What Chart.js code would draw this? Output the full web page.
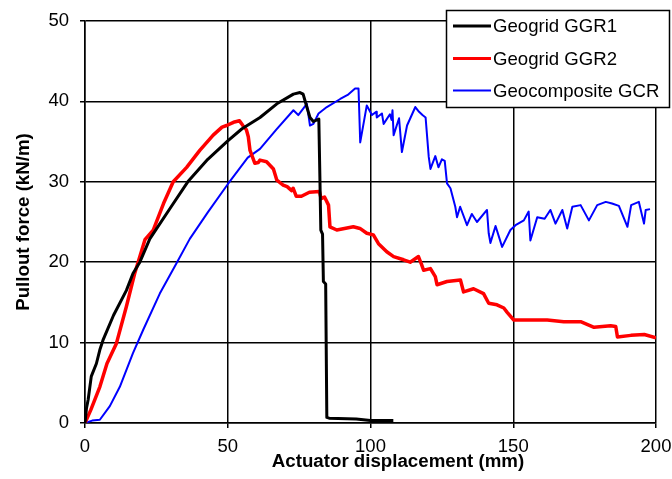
<!DOCTYPE html>
<html>
<head>
<meta charset="utf-8">
<script src="https://cdn.jsdelivr.net/npm/chart.js@4/dist/chart.umd.min.js"></script>
<style>
  html, body { margin: 0; padding: 0; background: #fff; }
  #wrap { width: 672px; height: 479px; position: relative; }
</style>
</head>
<body>
<div id="wrap"><canvas id="chart"></canvas></div>
<script>
// Series labels
const seriesNames = ['Geogrid GGR1', 'Geogrid GGR2', 'Geocomposite GCR'];
const xTitle = 'Actuator displacement (mm)';
const yTitle = 'Pullout force (kN/m)';

// Geogrid GGR1 (displacement mm, force kN/m)
const ggr1Disp = [0, 0.5, 1.1, 2.2, 4, 5.2, 6.3, 10, 14.5, 16.8, 19.2, 22.7, 30, 36, 43, 50, 55, 61.3, 67.2, 73, 75.3, 76.4, 77.7, 78.8, 80, 81.9, 82.3, 82.6, 83.2, 83.5, 84.3, 84.7, 85.5, 95, 100, 108];
const ggr1Force = [0, 1.8, 2.9, 5.8, 7.4, 9.1, 10.3, 13.4, 16.5, 18.6, 20, 22.9, 26.8, 30, 32.8, 35.1, 36.6, 38, 39.7, 40.9, 41.1, 40.9, 39.3, 38, 37.5, 37.8, 30, 24, 23.5, 17.6, 17.3, 0.7, 0.6, 0.5, 0.3, 0.3];

// Geogrid GGR2
const ggr2Disp = [0, 2, 5.2, 7.7, 11, 14.5, 17.4, 21, 23.9, 27.5, 30.9, 35.6, 40.2, 44.9, 48, 49.6, 52, 54.1, 55.3, 56.5, 57.2, 57.8, 59.5, 60.7, 61.3, 63.6, 66, 67.2, 69.4, 70.8, 72.4, 72.9, 74, 75.8, 78.6, 82.1, 82.7, 83.9, 85.3, 85.8, 88.2, 94, 96.3, 98.7, 101, 102.8, 105.7, 108.1, 111.6, 113.9, 116.8, 117.9, 118.6, 121, 122.7, 123.3, 126.8, 131.5, 132.6, 136.1, 139.6, 141.4, 144.3, 146.7, 147.8, 150.2, 156, 161.9, 167.7, 173.6, 178.3, 184.1, 185.9, 186.5, 191.2, 195.9, 200];
const ggr2Force = [0, 1.6, 4.5, 7.4, 9.9, 14.5, 18.6, 22.8, 24, 27.3, 30, 31.8, 33.9, 35.8, 36.8, 37, 37.4, 37.6, 37, 36.5, 35.6, 33.9, 32.3, 32.4, 32.7, 32.5, 31.6, 30.2, 29.6, 29.4, 28.9, 29.2, 28.2, 28.2, 28.7, 28.8, 27.9, 28.1, 27.1, 24.4, 24, 24.4, 24.2, 23.6, 23.4, 22.3, 21.3, 20.7, 20.3, 20, 20.7, 19.7, 19, 19.2, 18.2, 17.2, 17.6, 17.8, 16.3, 16.7, 16.1, 14.9, 14.7, 14.3, 13.8, 12.8, 12.8, 12.8, 12.6, 12.6, 11.9, 12.1, 12, 10.7, 10.9, 11, 10.6];

// Geocomposite GCR
const gcrDisp = [0, 2.5, 5.2, 8.7, 12.2, 16.8, 20.4, 26.2, 32.1, 36.7, 43, 50, 57, 61.3, 67, 73, 74.7, 77.7, 78.8, 80, 81.8, 84.7, 89.4, 92, 94.6, 95.8, 96.4, 98.7, 100.5, 102, 102.2, 104, 104.6, 106.8, 107.4, 107.7, 108.1, 110, 111, 112.8, 115.7, 117, 118.2, 119.3, 120.4, 121, 122.7, 123.8, 125, 126, 126.8, 128, 129.7, 130.3, 131.4, 133.8, 135.5, 137.3, 140.8, 141.4, 142, 143.8, 146.1, 149, 150.8, 153.7, 155.4, 156, 158.4, 161, 163, 164.8, 167.2, 168.9, 170.7, 173.6, 176.5, 179.4, 182.4, 184.6, 187, 190, 191.3, 194, 195.8, 196.4, 197.9];
const gcrForce = [0, 0.3, 0.4, 2.1, 4.5, 8.7, 11.6, 16.1, 19.9, 22.9, 26.2, 29.7, 33, 34.1, 36.5, 38.9, 38.3, 39.7, 37, 37.2, 38.5, 39.3, 40.3, 40.8, 41.6, 41.6, 34.9, 39.5, 38.3, 38.7, 38, 38.5, 37.2, 38.4, 37.7, 38.9, 35.8, 37.9, 33.7, 37, 39.3, 38.7, 38.3, 38, 33.1, 31.6, 33.2, 31.8, 32.8, 32.6, 29.8, 29.2, 26.9, 25.6, 26.9, 24.6, 26, 25, 26.5, 23.6, 22.4, 24.5, 21.9, 24, 24.6, 25.2, 26.3, 22.7, 25.6, 25.4, 26.5, 24.8, 26.5, 24.2, 26.9, 27.1, 25.2, 27.1, 27.5, 27.3, 27, 24.4, 27.1, 27.5, 24.8, 26.5, 26.6];

// Axis ranges / ticks
const xRange = [0, 200];
const xStep = 50;
const yRange = [0, 50];
const yStep = 10;

const FONT = '"Liberation Sans", Arial, sans-serif';

function toPoints(xs, ys) {
  return xs.map((x, i) => ({ x: x, y: ys[i] }));
}

// Boxed legend in the top-right corner, plus the x-axis title
// (the original centres it a bit right of the plot area)
const boxLegend = {
  id: 'boxLegend',
  afterDraw(chart) {
    const ctx = chart.ctx;
    const left = 446.5, top = 10.5, w = 223, h = 97;
    ctx.save();
    ctx.fillStyle = '#fff';
    ctx.fillRect(left, top, w, h);
    ctx.strokeStyle = '#000';
    ctx.lineWidth = 1.5;
    ctx.strokeRect(left, top, w, h);
    const rows = [26, 58.5, 90.5];
    chart.data.datasets.forEach((ds, i) => {
      ctx.strokeStyle = ds.borderColor;
      ctx.lineWidth = Math.min(ds.borderWidth, 3);
      ctx.beginPath();
      ctx.moveTo(453, rows[i]);
      ctx.lineTo(491, rows[i]);
      ctx.stroke();
      ctx.fillStyle = '#000';
      ctx.font = '18.6px ' + FONT;
      ctx.textBaseline = 'middle';
      ctx.textAlign = 'left';
      ctx.fillText(ds.label, 493, rows[i] + 1);
    });

    ctx.fillStyle = '#000';
    ctx.font = 'bold 18.7px ' + FONT;
    ctx.textAlign = 'center';
    ctx.textBaseline = 'middle';
    ctx.fillText(xTitle, 398, 462);
    ctx.restore();
  }
};

const ctx = document.getElementById('chart').getContext('2d');
new Chart(ctx, {
  type: 'scatter',
  data: {
    datasets: [
      { label: seriesNames[0], data: toPoints(ggr1Disp, ggr1Force), borderColor: '#000000', borderWidth: 3 },
      { label: seriesNames[1], data: toPoints(ggr2Disp, ggr2Force), borderColor: '#ff0000', borderWidth: 3.5 },
      { label: seriesNames[2], data: toPoints(gcrDisp, gcrForce), borderColor: '#0000ff', borderWidth: 2 }
    ].map(ds => Object.assign(ds, {
      showLine: true,
      pointRadius: 0,
      pointHoverRadius: 0,
      borderJoinStyle: 'round',
      tension: 0
    }))
  },
  options: {
    responsive: true,
    maintainAspectRatio: false,
    animation: false,
    layout: { padding: { top: 21, right: 16, left: 0, bottom: 0 } },
    plugins: {
      legend: { display: false },
      tooltip: { enabled: false }
    },
    scales: {
      x: {
        type: 'linear',
        min: xRange[0],
        max: xRange[1],
        ticks: { stepSize: xStep, color: '#000', padding: 8, font: { family: FONT, size: 18.5 } },
        grid: { color: '#000', lineWidth: 1.5, tickLength: 5 },
        border: { color: '#000', width: 1.5 },
        title: { display: false },
        afterFit: scale => {
          scale.height = 56;
          scale.paddingLeft = 0;
          scale.paddingRight = 0;
        }
      },
      y: {
        type: 'linear',
        min: yRange[0],
        max: yRange[1],
        ticks: { stepSize: yStep, color: '#000', padding: 11, font: { family: FONT, size: 18.5 } },
        grid: { color: '#000', lineWidth: 1.5, tickLength: 5 },
        border: { color: '#000', width: 1.5 },
        title: {
          display: true,
          text: yTitle,
          color: '#000',
          font: { family: FONT, size: 18.7, weight: 'bold' },
          padding: { top: 13, bottom: 0 }
        },
        afterFit: scale => {
          scale.width = 85;
          scale.paddingTop = 0;
          scale.paddingBottom = 0;
        }
      }
    }
  },
  plugins: [boxLegend]
});
</script>
</body>
</html>
